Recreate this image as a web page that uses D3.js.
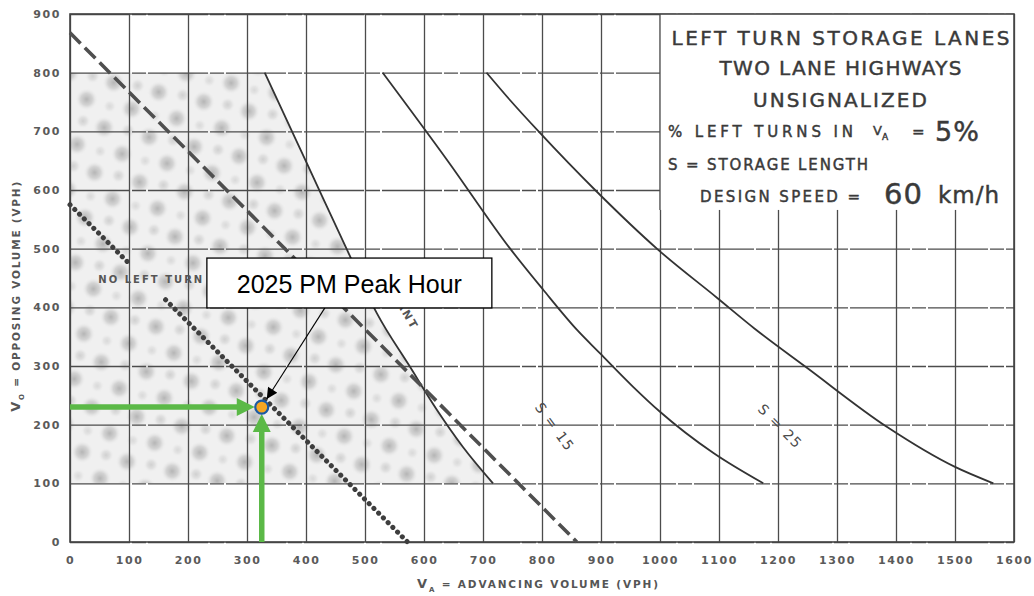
<!DOCTYPE html>
<html lang="en">
<head>
  <meta charset="UTF-8">
  <title>Left Turn Storage Lanes - Two Lane Highways</title>
  <style>
    body {
      margin: 0;
      padding: 0;
      background: #fff;
    }
    svg { display: block; }

    .scan {
      font-family: "DejaVu Sans", sans-serif;
      fill: #4a4a4a;
    }
    .tick text {
      font-family: "DejaVu Sans", sans-serif;
      font-weight: bold;
      font-size: 11px;
      letter-spacing: 1.6px;
      fill: #5a5a5a;
    }
    .grid line { stroke: #4c4c4c; stroke-width: 1.3px; }
    .grid .domain, .labels .domain { display: none; }
    .curve { fill: none; stroke: #333; stroke-width: 1.8px; }
    .legend text { stroke: #3a3a3a; stroke-width: 0.45px; }
    .callout-text {
      font-family: "Liberation Sans", Arial, sans-serif;
      font-size: 25px;
      fill: #000;
    }
  </style>
</head>
<body>
  <div id="chart"></div>

  <script src="https://d3js.org/d3.v7.min.js"></script>
  <script>
    // axis ticks (VPH)
    const advTicks = [0, 100, 200, 300, 400, 500, 600, 700, 800, 900, 1000, 1100, 1200, 1300, 1400, 1500, 1600];
    const oppTicks = [0, 100, 200, 300, 400, 500, 600, 700, 800, 900];

    // curves: [advancing, opposing]
    const warrantLine = [[330, 800], [380, 692], [427, 590], [471, 495], [520, 390], [576, 299], [622, 225], [666, 162], [717, 100]];
    const storage15 = [[530, 800], [640, 650], [746, 500], [802, 430], [859, 362], [898, 322], [954, 265], [1000, 222], [1090, 152], [1175, 100]];
    const storage25 = [[706, 800], [746, 753], [795, 699], [893, 597], [997, 498], [1097, 416], [1160, 364], [1249, 297], [1385, 196], [1500, 128], [1565, 100]];
    const dashedLine = [[0, 868], [859, 0]];
    const dottedUpper = [[0, 575], [98, 477]];
    const dottedLower = [[162, 413], [572, 0]];

    const peakHour = { va: 325, vo: 230 };
    const calloutText = "2025 PM Peak Hour";

    const margin = { top: 14, right: 20, bottom: 54, left: 70 };
    const width = 1034 - margin.left - margin.right;
    const height = 596 - margin.top - margin.bottom;

    const root = d3.select("#chart")
      .append("svg")
        .attr("width", 1034)
        .attr("height", 596);

    const svg = root.append("g")
        .attr("transform", `translate(${margin.left},${margin.top})`);

    const x = d3.scaleLinear().domain([0, 1600]).range([0, width]);
    const y = d3.scaleLinear().domain([0, 900]).range([height, 0]);

    // Defs: stipple pattern + arrowhead
    const defs = root.append("defs");
    const grad = defs.append("radialGradient").attr("id", "blob");
    grad.append("stop").attr("offset", "0%").attr("stop-color", "#8c8c8c").attr("stop-opacity", 0.6);
    grad.append("stop").attr("offset", "50%").attr("stop-color", "#a8a8a8").attr("stop-opacity", 0.4);
    grad.append("stop").attr("offset", "100%").attr("stop-color", "#ffffff").attr("stop-opacity", 0);

    const pat = defs.append("pattern")
      .attr("id", "stipple")
      .attr("width", 46).attr("height", 46)
      .attr("patternUnits", "userSpaceOnUse")
      .attr("patternTransform", "rotate(12)");
    pat.append("rect").attr("width", 46).attr("height", 46).attr("fill", "#f0f0f0");
    pat.append("circle").attr("cx", 11).attr("cy", 12).attr("r", 12).attr("fill", "url(#blob)");
    pat.append("circle").attr("cx", 34).attr("cy", 34).attr("r", 12).attr("fill", "url(#blob)");
    pat.append("circle").attr("cx", 35).attr("cy", 10).attr("r", 8).attr("fill", "url(#blob)").attr("opacity", 0.55);
    pat.append("circle").attr("cx", 12).attr("cy", 36).attr("r", 7).attr("fill", "url(#blob)").attr("opacity", 0.4);

    defs.append("marker")
      .attr("id", "blackHead")
      .attr("viewBox", "0 0 10 10")
      .attr("refX", 10).attr("refY", 5)
      .attr("markerWidth", 15).attr("markerHeight", 11)
      .attr("markerUnits", "userSpaceOnUse")
      .attr("orient", "auto")
      .append("path").attr("d", "M0,0L10,5L0,10Z").attr("fill", "#000");

    const line = d3.line()
      .x(d => x(d[0]))
      .y(d => y(d[1]));
    const smooth = d3.line()
      .x(d => x(d[0]))
      .y(d => y(d[1]))
      .curve(d3.curveMonotoneX);

    // Shaded "no left turn lane" region
    const warrantPath = smooth(warrantLine);
    svg.append("path")
      .attr("d", `M${x(0)},${y(100)}L${x(0)},${y(800)}L` + warrantPath.slice(1) + "Z")
      .attr("fill", "url(#stipple)");

    // Grid
    svg.append("g")
      .attr("class", "grid")
      .attr("transform", `translate(0,${height})`)
      .call(d3.axisBottom(x).tickValues(advTicks).tickSize(-height).tickFormat(""));

    svg.append("g")
      .attr("class", "grid")
      .call(d3.axisLeft(y).tickValues(oppTicks).tickSize(-width).tickFormat(""))
      .selectAll("line")
        .attr("stroke-dasharray", "60,2,14,2");

    // Legend panel (covers the grid)
    svg.append("rect")
      .attr("x", x(1000))
      .attr("y", y(900))
      .attr("width", x(1600) - x(1000))
      .attr("height", y(566) - y(900))
      .attr("fill", "#fff");
    svg.append("line")
      .attr("x1", x(1000)).attr("x2", x(1000))
      .attr("y1", y(900)).attr("y2", y(566))
      .attr("stroke", "#4c4c4c").attr("stroke-width", 1.3);

    // Frame
    svg.append("rect")
      .attr("width", width).attr("height", height)
      .attr("fill", "none")
      .attr("stroke", "#444")
      .attr("stroke-width", 1.6);

    // Tick labels
    svg.append("g")
      .attr("class", "labels")
      .attr("transform", `translate(0,${height})`)
      .call(d3.axisBottom(x).tickValues(advTicks).tickSize(0).tickPadding(14).tickFormat(d3.format("d")));

    svg.append("g")
      .attr("class", "labels")
      .call(d3.axisLeft(y).tickValues(oppTicks).tickSize(0).tickPadding(9).tickFormat(d3.format("d")));

    // Axis titles
    const xTitle = svg.append("text")
      .attr("class", "scan")
      .attr("x", 347).attr("y", height + 46)
      .attr("textLength", 241)
      .attr("lengthAdjust", "spacing")
      .style("font-size", "10.5px").style("font-weight", "bold").style("fill", "#555");
    xTitle.append("tspan").style("font-size", "13px").text("V");
    xTitle.append("tspan").attr("dy", 4).style("font-size", "7px").text("A");
    xTitle.append("tspan").attr("dy", -4).text(" = ADVANCING VOLUME (VPH)");

    const yTitle = svg.append("text")
      .attr("class", "scan")
      .attr("transform", `translate(-50,${y(222)}) rotate(-90)`)
      .attr("textLength", 230)
      .attr("lengthAdjust", "spacing")
      .style("font-size", "10.5px").style("font-weight", "bold").style("fill", "#555");
    yTitle.append("tspan").style("font-size", "13px").text("V");
    yTitle.append("tspan").attr("dy", 4).style("font-size", "7px").text("O");
    yTitle.append("tspan").attr("dy", -4).text(" = OPPOSING VOLUME (VPH)");

    // Curves
    svg.append("path").attr("class", "curve").attr("d", warrantPath);
    svg.append("path").attr("class", "curve").attr("d", smooth(storage15));
    svg.append("path").attr("class", "curve").attr("d", smooth(storage25));

    svg.append("path")
      .attr("d", line(dashedLine))
      .attr("fill", "none")
      .attr("stroke", "#4f4f4f")
      .attr("stroke-width", 3.6)
      .attr("stroke-dasharray", "15,6");

    [dottedUpper, dottedLower].forEach(seg => {
      svg.append("path")
        .attr("d", line(seg))
        .attr("fill", "none")
        .attr("stroke", "#3e3e3e")
        .attr("stroke-width", 5)
        .attr("stroke-linecap", "round")
        .attr("stroke-dasharray", "0.1,6.6");
    });

    // In-chart labels
    svg.append("text")
      .attr("class", "scan")
      .attr("x", x(136)).attr("y", y(442))
      .attr("text-anchor", "middle")
      .attr("textLength", 104).attr("lengthAdjust", "spacing")
      .style("font-size", "10px").style("font-weight", "bold").style("fill", "#555")
      .text("NO LEFT TURN");

    svg.append("text")
      .attr("class", "scan")
      .attr("transform", `translate(${x(580)},${y(360)}) rotate(60)`)
      .attr("text-anchor", "end")
      .style("font-size", "11px").style("font-weight", "bold").style("letter-spacing", "2px").style("fill", "#555")
      .text("WARRANT");

    svg.append("text")
      .attr("class", "scan")
      .attr("transform", `translate(${x(815)},${y(191)}) rotate(54)`)
      .attr("text-anchor", "middle")
      .style("font-size", "14px").style("letter-spacing", "1.5px").style("fill", "#4a4a4a")
      .text("S = 15");

    svg.append("text")
      .attr("class", "scan")
      .attr("transform", `translate(${x(1198)},${y(191)}) rotate(45)`)
      .attr("text-anchor", "middle")
      .style("font-size", "14px").style("letter-spacing", "1.5px").style("fill", "#4a4a4a")
      .text("S = 25");

    // Legend text
    const lg = svg.append("g").attr("class", "scan legend").style("fill", "#3a3a3a");
    lg.append("text").attr("x", x(1306)).attr("y", 31).attr("text-anchor", "middle")
      .attr("textLength", 338).attr("lengthAdjust", "spacing")
      .style("font-size", "20px").text("LEFT TURN STORAGE LANES");
    lg.append("text").attr("x", x(1306)).attr("y", 61).attr("text-anchor", "middle")
      .attr("textLength", 242).attr("lengthAdjust", "spacing")
      .style("font-size", "20px").text("TWO LANE HIGHWAYS");
    lg.append("text").attr("x", x(1305)).attr("y", 93).attr("text-anchor", "middle")
      .attr("textLength", 174).attr("lengthAdjust", "spacing")
      .style("font-size", "20px").text("UNSIGNALIZED");

    lg.append("text").attr("x", 598).attr("y", 123)
      .attr("textLength", 185).attr("lengthAdjust", "spacing")
      .style("font-size", "15px").text("% LEFT TURNS IN");
    const va = lg.append("text").attr("x", 803).attr("y", 121).style("font-size", "13px");
    va.append("tspan").text("V");
    va.append("tspan").attr("dy", 5).style("font-size", "9px").text("A");
    lg.append("text").attr("x", 842).attr("y", 123).style("font-size", "15px").text("=");
    lg.append("text").attr("x", 865).attr("y", 127)
      .style("font-size", "27px").style("letter-spacing", "1px").text("5%");

    lg.append("text").attr("x", 598).attr("y", 156)
      .attr("textLength", 200).attr("lengthAdjust", "spacing")
      .style("font-size", "15px").text("S = STORAGE LENGTH");

    lg.append("text").attr("x", 630).attr("y", 188)
      .attr("textLength", 160).attr("lengthAdjust", "spacing")
      .style("font-size", "15px").text("DESIGN SPEED =");
    lg.append("text").attr("x", 814).attr("y", 190)
      .style("font-size", "29px").style("letter-spacing", "1px").text("60");
    lg.append("text").attr("x", 868).attr("y", 189)
      .style("font-size", "23px").style("letter-spacing", "1px").text("km/h");

    // Peak hour marker with green guide arrows
    const px = x(peakHour.va), py = y(peakHour.vo);
    const green = "#5bb947";
    svg.append("line")
      .attr("x1", x(0)).attr("x2", px - 22)
      .attr("y1", py).attr("y2", py)
      .attr("stroke", green).attr("stroke-width", 5.5);
    svg.append("path")
      .attr("d", `M${px - 7},${py}L${px - 25},${py - 9}L${px - 25},${py + 9}Z`)
      .attr("fill", green);
    svg.append("line")
      .attr("x1", px).attr("x2", px)
      .attr("y1", y(0)).attr("y2", py + 22)
      .attr("stroke", green).attr("stroke-width", 5.5);
    svg.append("path")
      .attr("d", `M${px},${py + 7}L${px - 9},${py + 25}L${px + 9},${py + 25}Z`)
      .attr("fill", green);

    svg.append("circle")
      .attr("cx", px).attr("cy", py).attr("r", 6.5)
      .attr("fill", "#f5a623")
      .attr("stroke", "#1b5aa3")
      .attr("stroke-width", 2.2);

    // Callout
    const box = { left: x(232), right: x(715), top: y(484), bottom: y(399) };
    svg.append("line")
      .attr("x1", box.left + 118).attr("y1", box.bottom)
      .attr("x2", px + 5).attr("y2", py - 8)
      .attr("stroke", "#000").attr("stroke-width", 1.1)
      .attr("marker-end", "url(#blackHead)");
    svg.append("rect")
      .attr("x", box.left).attr("y", box.top)
      .attr("width", box.right - box.left)
      .attr("height", box.bottom - box.top)
      .attr("fill", "#fff")
      .attr("stroke", "#000")
      .attr("stroke-width", 1.3);
    svg.append("text")
      .attr("class", "callout-text")
      .attr("x", (box.left + box.right) / 2)
      .attr("y", box.bottom - 15)
      .attr("text-anchor", "middle")
      .text(calloutText);
  </script>
</body>
</html>
